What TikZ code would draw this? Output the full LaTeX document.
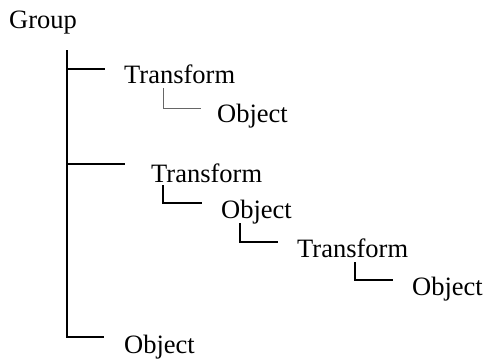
\documentclass[tikz,border=0pt]{standalone}
\usepackage{fontspec}
\setmainfont{Liberation Serif}
\begin{document}
\begin{tikzpicture}[x=1pt,y=-1pt,
  label/.style={anchor=base west,inner sep=0pt,font=\fontsize{26.5}{30}\selectfont},
  link/.style={line width=1.6pt,black},
  thinlink/.style={line width=0.9pt,black!60}]
\useasboundingbox (0,0) rectangle (485,360);

% labels of the hierarchy
\node[label] (group) at (9,28) {Group};
\node[label] (t1) at (124,83) {Transform};
\node[label] (o1) at (217,122) {Object};
\node[label] (t2) at (151,182) {Transform};
\node[label] (o2) at (221,218) {Object};
\node[label] (t3) at (297,257) {Transform};
\node[label] (o3) at (412,295) {Object};
\node[label] (o4) at (124,353) {Object};

% corner points of the connectors
\coordinate (trunktop) at (67,50);
\coordinate (trunkbot) at (67,337);
\coordinate (b1) at (67,69);
\coordinate (b2) at (67,164);
\coordinate (e1) at (105,69);
\coordinate (e2) at (125,164);
\coordinate (e4) at (104,337);

% main trunk and its branches
\draw[link] (trunktop) -- (trunkbot) -- (e4);
\draw[link] (b1) -- (e1);
\draw[link] (b2) -- (e2);

% elbows from a parent to its child
\draw[thinlink] (163,88) coordinate (k1) |- (201,108) coordinate (k1e);
\draw[link] (163,185) coordinate (k2) |- (202,203) coordinate (k2e);
\draw[link] (240,223) coordinate (k3) |- (278,242) coordinate (k3e);
\draw[link] (355,262) coordinate (k4) |- (393,280) coordinate (k4e);
\end{tikzpicture}
\end{document}
